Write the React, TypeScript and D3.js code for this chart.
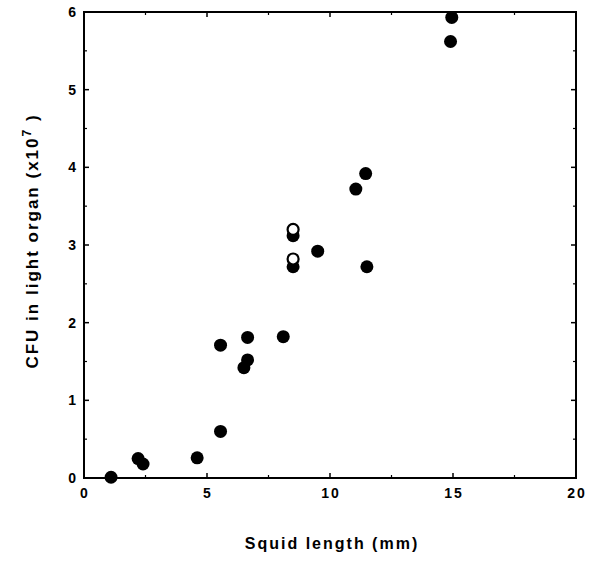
import React from 'react';
import * as d3 from 'd3';

// filled circles
const squidLength = [1.1, 2.2, 2.4, 4.6, 5.55, 5.55, 6.5, 6.65, 6.65, 8.1, 8.5, 8.5, 9.5, 11.05, 11.45, 11.5, 14.9, 14.95];
const cfu = [0.01, 0.25, 0.18, 0.26, 0.6, 1.71, 1.42, 1.52, 1.81, 1.82, 2.72, 3.12, 2.92, 3.72, 3.92, 2.72, 5.62, 5.93];

// open circles
const openLength = [8.5, 8.5];
const openCfu = [3.2, 2.82];

const xTicks = [0, 5, 10, 15, 20];
const yTicks = [0, 1, 2, 3, 4, 5, 6];
const xMinor = [2.5, 7.5, 12.5, 17.5];
const yMinor = [0.5, 1.5, 2.5, 3.5, 4.5, 5.5];

const W = 593;
const H = 576;
const margin = { top: 12, right: 17, bottom: 98, left: 84 };

const font = '"Liberation Sans", Arial, sans-serif';

const App = () => {
    const x = d3.scaleLinear().domain([0, 20]).range([margin.left, W - margin.right]);
    const y = d3.scaleLinear().domain([0, 6]).range([H - margin.bottom, margin.top]);

    const x0 = x(0), x1 = x(20), y0 = y(0), y1 = y(6);

    return (
        <svg width={W} height={H} style={{ position: 'absolute', left: 0, top: 0, background: '#fff' }}>
            {/* frame */}
            <rect x={x0} y={y1} width={x1 - x0} height={y0 - y1} fill="none" stroke="#000" strokeWidth={2} />

            {/* y ticks, left and right */}
            {yTicks.map(t => (
                <g key={'y' + t}>
                    <line x1={x0} x2={x0 + 5} y1={y(t)} y2={y(t)} stroke="#000" strokeWidth={1.5} />
                    <line x1={x1} x2={x1 - 5} y1={y(t)} y2={y(t)} stroke="#000" strokeWidth={1.5} />
                    <text x={x0 - 8} y={y(t) + 5} textAnchor="end" fontFamily={font} fontWeight="bold" fontSize={14}>{t}</text>
                </g>
            ))}
            {yMinor.map(t => (
                <g key={'ym' + t}>
                    <line x1={x0} x2={x0 + 3} y1={y(t)} y2={y(t)} stroke="#000" strokeWidth={1.2} />
                    <line x1={x1} x2={x1 - 3} y1={y(t)} y2={y(t)} stroke="#000" strokeWidth={1.2} />
                </g>
            ))}

            {/* x ticks, bottom and top */}
            {xTicks.map(t => (
                <g key={'x' + t}>
                    <line x1={x(t)} x2={x(t)} y1={y0} y2={y0 - 5} stroke="#000" strokeWidth={1.5} />
                    <line x1={x(t)} x2={x(t)} y1={y1} y2={y1 + 5} stroke="#000" strokeWidth={1.5} />
                    <text x={x(t) + 1} y={y0 + 20} textAnchor="middle" fontFamily={font} fontWeight="bold" fontSize={14} letterSpacing={2}>{t}</text>
                </g>
            ))}
            {xMinor.map(t => (
                <g key={'xm' + t}>
                    <line x1={x(t)} x2={x(t)} y1={y0} y2={y0 - 3} stroke="#000" strokeWidth={1.2} />
                    <line x1={x(t)} x2={x(t)} y1={y1} y2={y1 + 3} stroke="#000" strokeWidth={1.2} />
                </g>
            ))}

            {/* filled points */}
            {squidLength.map((d, i) => (
                <circle key={'f' + i} cx={x(d)} cy={y(cfu[i])} r={6.5} fill="#000" />
            ))}
            {/* open points */}
            {openLength.map((d, i) => (
                <circle key={'o' + i} cx={x(d)} cy={y(openCfu[i])} r={5.5} fill="#fff" stroke="#000" strokeWidth={2.2} />
            ))}

            {/* axis labels */}
            <text x={332} y={549} textAnchor="middle" fontFamily={font} fontWeight="bold" fontSize={16} letterSpacing={2}>Squid length (mm)</text>
            <text transform={`translate(38, 241) rotate(-90)`} textAnchor="middle" fontFamily={font} fontWeight="bold" fontSize={17} letterSpacing={2}>
                CFU in light organ (x10<tspan dy={-7} fontSize={12}>7</tspan><tspan dy={7}> )</tspan>
            </text>
        </svg>
    );
};

export default App;
